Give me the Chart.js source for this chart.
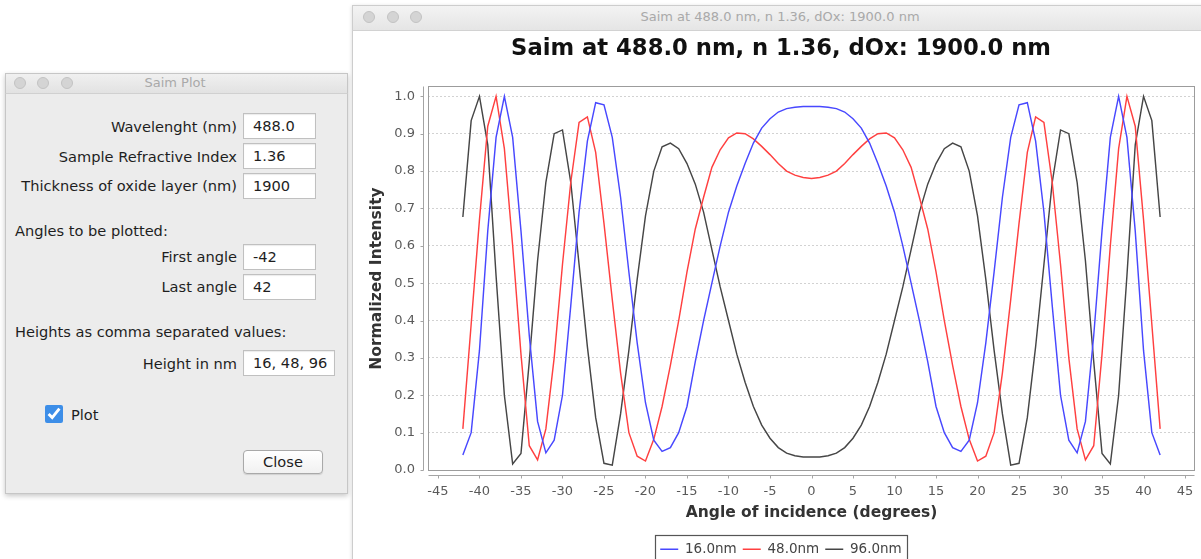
<!DOCTYPE html>
<html>
<head>
<meta charset="utf-8">
<script src="https://cdn.jsdelivr.net/npm/chart.js@4/dist/chart.umd.min.js"></script>
<style>
html,body{margin:0;padding:0;background:#fff;}
body{width:1201px;height:559px;overflow:hidden;position:relative;font-family:'DejaVu Sans',sans-serif;}
.abs{position:absolute;box-sizing:border-box;}
#dlg{left:5px;top:73px;width:343px;height:421px;background:#ececec;border:1px solid #c6c6c6;box-shadow:0 2px 5px rgba(0,0,0,0.22);}
#dlgbar{left:5px;top:73px;width:343px;height:21px;background:linear-gradient(#f0f0f0,#e2e2e2);border:1px solid #c6c6c6;border-bottom-color:#d0d0d0;}
#cwin{left:352px;top:5px;width:870px;height:580px;background:#fff;border:1px solid #cdcdcd;box-shadow:0 1px 4px rgba(0,0,0,0.15);}
#cbar{left:352px;top:5px;width:870px;height:26px;background:linear-gradient(#f3f3f3,#e5e5e5);border:1px solid #cdcdcd;border-bottom-color:#d2d2d2;}
.dot{width:12px;height:12px;border-radius:50%;background:#d4d4d4;border:1px solid #c3c3c3;}
.wt{color:#a9a9a9;font-size:13px;text-align:center;white-space:nowrap;}
.lbl{font-size:14.6px;color:#1e1e1e;white-space:nowrap;line-height:18px;height:18px;}
.r{text-align:right;left:0;width:237px;}
.fld{background:#fff;border:1px solid #c0c0c0;box-shadow:inset 0 1px 1px rgba(0,0,0,0.08);font-size:14.6px;color:#1e1e1e;padding-left:9px;line-height:24px;height:26px;white-space:nowrap;}
#chk{left:45px;top:405px;width:18px;height:18px;margin:0;accent-color:#3d8ee8;}
#btn{left:243px;top:450px;width:80px;height:24px;border:1px solid #a9a9a9;border-radius:4px;background:linear-gradient(#ffffff,#f1f1f1);font-size:14.6px;color:#1e1e1e;text-align:center;line-height:22px;box-shadow:0 1px 1px rgba(0,0,0,0.12);}
#cv{left:353px;top:32px;}
</style>
</head>
<body>
<!-- dialog window -->
<div id="dlg" class="abs"></div>
<div id="dlgbar" class="abs"></div>
<div class="abs dot" style="left:14px;top:77px"></div>
<div class="abs dot" style="left:37px;top:77px"></div>
<div class="abs dot" style="left:61px;top:77px"></div>
<div class="abs wt" style="left:75px;width:200px;top:75px;line-height:16px">Saim Plot</div>

<div class="abs lbl r" style="top:118px">Wavelenght (nm)</div>
<div class="abs fld" style="left:243px;top:113px;width:73px">488.0</div>
<div class="abs lbl r" style="top:148px">Sample Refractive Index</div>
<div class="abs fld" style="left:243px;top:143px;width:73px">1.36</div>
<div class="abs lbl r" style="top:177px">Thickness of oxide layer (nm)</div>
<div class="abs fld" style="left:243px;top:173px;width:73px">1900</div>
<div class="abs lbl" style="left:15px;top:222px">Angles to be plotted:</div>
<div class="abs lbl r" style="top:248px">First angle</div>
<div class="abs fld" style="left:243px;top:244px;width:73px">-42</div>
<div class="abs lbl r" style="top:278px">Last angle</div>
<div class="abs fld" style="left:243px;top:274px;width:73px">42</div>
<div class="abs lbl" style="left:15px;top:323px">Heights as comma separated values:</div>
<div class="abs lbl r" style="top:355px">Height in nm</div>
<div class="abs fld" style="left:243px;top:350px;width:92px">16, 48, 96</div>
<input type="checkbox" id="chk" class="abs" checked>
<div class="abs lbl" style="left:71px;top:406px">Plot</div>
<div id="btn" class="abs">Close</div>

<!-- chart window -->
<div id="cwin" class="abs"></div>
<div id="cbar" class="abs"></div>
<div class="abs dot" style="left:363px;top:11px"></div>
<div class="abs dot" style="left:387px;top:11px"></div>
<div class="abs dot" style="left:410px;top:11px"></div>
<div class="abs wt" style="left:580px;width:400px;top:9px;line-height:16px">Saim at 488.0 nm, n 1.36, dOx: 1900.0 nm</div>

<canvas id="cv" class="abs" width="856" height="534" style="width:856px;height:534px"></canvas>

<script>
// ---- data ----
const angles = [-42,-41,-40,-39,-38,-37,-36,-35,-34,-33,-32,-31,-30,-29,-28,-27,-26,-25,-24,-23,-22,-21,-20,-19,-18,-17,-16,-15,-14,-13,-12,-11,-10,-9,-8,-7,-6,-5,-4,-3,-2,-1,0,1,2,3,4,5,6,7,8,9,10,11,12,13,14,15,16,17,18,19,20,21,22,23,24,25,26,27,28,29,30,31,32,33,34,35,36,37,38,39,40,41,42];

const height16 = [0.04,0.10,0.32,0.64,0.89,1.00,0.89,0.64,0.36,0.13,0.046,0.08,0.20,0.44,0.69,0.88,0.983,0.977,0.89,0.73,0.53,0.34,0.18,0.08,0.05,0.06,0.10,0.17,0.29,0.40,0.50,0.60,0.69,0.76,0.82,0.875,0.915,0.94,0.958,0.967,0.971,0.973,0.973,
  0.973,0.971,0.967,0.958,0.94,0.915,0.875,0.82,0.76,0.69,0.60,0.50,0.40,0.29,0.17,0.10,0.06,0.05,0.08,0.18,0.34,0.53,0.73,0.89,0.977,0.983,0.88,0.69,0.44,0.20,0.08,0.046,0.13,0.36,0.64,0.89,1.00,0.89,0.64,0.32,0.10,0.04];

const height48 = [0.11,0.39,0.67,0.92,1.00,0.86,0.60,0.31,0.065,0.027,0.11,0.30,0.55,0.77,0.93,0.945,0.85,0.66,0.456,0.26,0.10,0.037,0.024,0.082,0.17,0.28,0.40,0.53,0.645,0.73,0.81,0.857,0.889,0.902,0.900,0.886,0.866,0.844,0.82,0.80,0.789,0.783,0.78,
  0.783,0.789,0.80,0.82,0.844,0.866,0.886,0.900,0.902,0.889,0.857,0.81,0.73,0.645,0.53,0.40,0.28,0.17,0.082,0.024,0.037,0.10,0.26,0.456,0.66,0.85,0.945,0.93,0.77,0.55,0.30,0.11,0.027,0.065,0.31,0.60,0.86,1.00,0.92,0.67,0.39,0.11];

const height96 = [0.677,0.935,1.00,0.87,0.52,0.20,0.016,0.044,0.29,0.56,0.77,0.90,0.91,0.77,0.55,0.33,0.14,0.018,0.013,0.15,0.32,0.51,0.68,0.80,0.865,0.875,0.86,0.82,0.765,0.69,0.59,0.49,0.40,0.31,0.235,0.17,0.12,0.085,0.06,0.045,0.038,0.035,0.035,
  0.035,0.038,0.045,0.06,0.085,0.12,0.17,0.235,0.31,0.40,0.49,0.59,0.69,0.765,0.82,0.86,0.875,0.865,0.80,0.68,0.51,0.32,0.15,0.013,0.018,0.14,0.33,0.55,0.77,0.91,0.90,0.77,0.56,0.29,0.044,0.016,0.20,0.52,0.87,1.00,0.935,0.677];

const seriesNames = ['16.0nm','48.0nm','96.0nm'];
const xTickValues = [-45,-40,-35,-30,-25,-20,-15,-10,-5,0,5,10,15,20,25,30,35,40,45];
const yTickValues = [0.0,0.1,0.2,0.3,0.4,0.5,0.6,0.7,0.8,0.9,1.0];
const chartTitle = 'Saim at 488.0 nm, n 1.36, dOx: 1900.0 nm';
const xTitle = 'Angle of incidence (degrees)';
const yTitle = 'Normalized Intensity';
// -----------------------------------------------

const FAM = "'DejaVu Sans', sans-serif";
const toPts = arr => angles.map((a, i) => ({x: a, y: arr[i]}));

const framePlugin = {
  id: 'frame',
  afterDraw(chart) {
    const {ctx, chartArea: a, scales: {x, y}} = chart;
    ctx.save();
    ctx.lineWidth = 1;
    ctx.strokeStyle = '#9c9c9c';
    const L = Math.round(a.left) + 0.5, T = Math.round(a.top) + 0.5;
    const R = Math.round(a.right) - 0.5, B = Math.round(a.bottom) - 0.5;
    ctx.strokeRect(L, T, R - L, B - T);
    ctx.strokeStyle = '#a4a4a4';
    ctx.beginPath();
    const xl = B + 5;
    ctx.moveTo(L, xl); ctx.lineTo(R, xl);
    x.ticks.forEach(t => {
      const px = Math.round(x.getPixelForValue(t.value)) + 0.5;
      ctx.moveTo(px, xl); ctx.lineTo(px, xl + 3);
    });
    const yl = L - 5;
    ctx.moveTo(yl, T); ctx.lineTo(yl, B);
    y.ticks.forEach(t => {
      const py = Math.round(y.getPixelForValue(t.value)) + 0.5;
      ctx.moveTo(yl, py); ctx.lineTo(yl - 3, py);
    });
    ctx.stroke();
    const lg = chart.legend;
    if (lg && lg.legendHitBoxes && lg.legendHitBoxes.length) {
      const hb = lg.legendHitBoxes;
      let minL = Infinity, maxR = -Infinity;
      hb.forEach(h => { minL = Math.min(minL, h.left); maxR = Math.max(maxR, h.left + h.width); });
      ctx.strokeStyle = '#555';
      ctx.lineWidth = 1.2;
      ctx.strokeRect(Math.round(minL - 5) + 0.5, Math.round(lg.top - 2) + 0.5, Math.round(maxR - minL + 10), 30);
    }
    ctx.restore();
  }
};

new Chart(document.getElementById('cv'), {
  type: 'line',
  data: {
    datasets: [
      {label: seriesNames[0], data: toPts(height16), borderColor: '#4848ff', backgroundColor: '#4848ff', borderWidth: 1.45, pointRadius: 0, tension: 0, fill: false},
      {label: seriesNames[1], data: toPts(height48), borderColor: '#ff4040', backgroundColor: '#ff4040', borderWidth: 1.45, pointRadius: 0, tension: 0, fill: false},
      {label: seriesNames[2], data: toPts(height96), borderColor: '#464646', backgroundColor: '#464646', borderWidth: 1.45, pointRadius: 0, tension: 0, fill: false}
    ]
  },
  options: {
    responsive: false,
    animation: false,
    devicePixelRatio: 1,
    layout: {padding: {left: 0, right: 0, top: 0, bottom: 0}},
    plugins: {
      title: {display: true, text: chartTitle, color: '#111', font: {family: FAM, size: 22.7, weight: 'bold'}, padding: {top: 3.5, bottom: 23.5}},
      legend: {position: 'bottom', labels: {usePointStyle: true, pointStyle: 'line', pointStyleWidth: 18, padding: 6, color: '#444', font: {family: FAM, size: 13.5}}},
      tooltip: {enabled: false}
    },
    scales: {
      x: {
        type: 'linear', min: -46.2, max: 46.2,
        afterBuildTicks: s => { s.ticks = xTickValues.map(v => ({value: v})); },
        afterFit: s => { s.height = 65.75; },
        grid: {display: false, drawTicks: false},
        border: {display: false},
        ticks: {padding: 13, color: '#5a5a5a', font: {family: FAM, size: 13}, maxRotation: 0, autoSkip: false, callback: v => String(v)},
        title: {display: true, text: xTitle, color: '#333', font: {family: FAM, size: 15.5, weight: 'bold'}, padding: {top: 0, bottom: 14.2}}
      },
      y: {
        type: 'linear', min: -0.002, max: 1.027,
        afterBuildTicks: s => { s.ticks = yTickValues.map(v => ({value: v})); },
        afterFit: s => { s.width = 75; },
        grid: {color: '#d2d2d2', lineWidth: 1, drawTicks: false},
        border: {display: false, dash: [2, 2]},
        ticks: {padding: 13, color: '#5a5a5a', font: {family: FAM, size: 13}, autoSkip: false, callback: v => Number(v).toFixed(1)},
        title: {display: true, text: yTitle, color: '#333', font: {family: FAM, size: 15.5, weight: 'bold'}, padding: {top: 14.7, bottom: 0}}
      },
      pad: {
        type: 'linear', position: 'right', display: true,
        afterFit: s => { s.width = 14; },
        grid: {display: false, drawTicks: false},
        border: {display: false},
        ticks: {display: false}
      }
    }
  },
  plugins: [framePlugin]
});
</script>
</body>
</html>
